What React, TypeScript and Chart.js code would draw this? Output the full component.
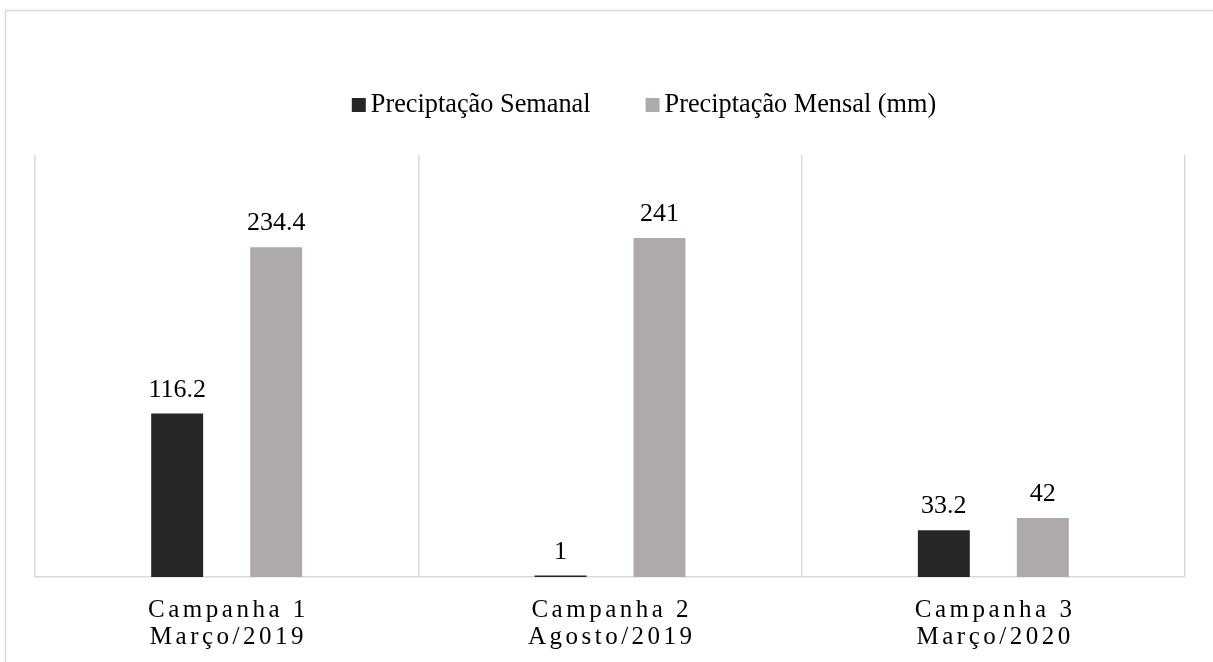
import React, { useEffect, useRef } from "react";
import { Chart, registerables } from "chart.js";

Chart.register(...registerables);

// Campaign labels (two lines each) and rainfall values
const categories: string[][] = [
  ["Campanha 1", "Março/2019"],
  ["Campanha 2", "Agosto/2019"],
  ["Campanha 3", "Março/2020"],
];
const weeklyRain: number[] = [116.2, 1, 33.2];
const monthlyRain: number[] = [234.4, 241, 42];
const seriesNames: string[] = ["Preciptação Semanal", "Preciptação Mensal (mm)"];
const seriesColors: string[] = ["#262626", "#AEAAAA"];

const FONT = "'Liberation Serif', 'Times New Roman', serif";
const GRID = "#d9d9d9";

// Frame around the whole figure
const framePlugin = {
  id: "frame",
  beforeDraw(chart: any) {
    const ctx = chart.ctx;
    ctx.save();
    ctx.fillStyle = "#ffffff";
    ctx.fillRect(0, 0, chart.width, chart.height);
    ctx.strokeStyle = GRID;
    ctx.lineWidth = 1.5;
    ctx.strokeRect(5.5, 10.5, chart.width + 50, chart.height + 50);
    ctx.restore();
  },
};

// Legend row drawn above the plot
const legendPlugin = {
  id: "customLegend",
  afterDraw(chart: any) {
    const ctx = chart.ctx;
    const box = 14;
    const textGap = 5;
    const itemGap = 55;
    const baseline = 112;
    ctx.save();
    ctx.font = `26.3px ${FONT}`;
    const items = chart.data.datasets.map((ds: any) => ({
      label: ds.label,
      color: ds.backgroundColor,
      w: ctx.measureText(ds.label).width,
    }));
    const total =
      items.reduce((s: number, it: any) => s + box + textGap + it.w, 0) +
      itemGap * (items.length - 1);
    let x = 644 - total / 2;
    ctx.textBaseline = "alphabetic";
    ctx.textAlign = "left";
    for (const it of items) {
      ctx.fillStyle = it.color;
      ctx.fillRect(x, baseline - box, box, box);
      x += box + textGap;
      ctx.fillStyle = "#000000";
      ctx.fillText(it.label, x, baseline);
      x += it.w + itemGap;
    }
    ctx.restore();
  },
};

// Value labels above each bar
const valueLabelPlugin = {
  id: "valueLabels",
  afterDatasetsDraw(chart: any) {
    const ctx = chart.ctx;
    ctx.save();
    ctx.font = `26px ${FONT}`;
    ctx.fillStyle = "#000000";
    ctx.textAlign = "center";
    ctx.textBaseline = "alphabetic";
    chart.data.datasets.forEach((ds: any, i: number) => {
      const meta = chart.getDatasetMeta(i);
      meta.data.forEach((bar: any, j: number) => {
        ctx.fillText(String(ds.data[j]), bar.x, bar.y - 17);
      });
    });
    ctx.restore();
  },
};

// Spaced-out category labels on the x axis
const spacedTicksPlugin = {
  id: "spacedTicks",
  afterLayout(chart: any) {
    const scale = chart.scales.x;
    if (!scale || scale.__spaced) return;
    const orig = scale.drawLabels;
    scale.drawLabels = function (area: any) {
      const ctx = this.ctx;
      ctx.save();
      ctx.letterSpacing = "3.5px";
      ctx.translate(1.75, 0);
      orig.call(this, area);
      ctx.restore();
    };
    scale.__spaced = true;
  },
};

export default function App() {
  const canvasRef = useRef<HTMLCanvasElement | null>(null);

  useEffect(() => {
    const canvas = canvasRef.current;
    if (!canvas) return;
    const chart = new Chart(canvas, {
      type: "bar",
      data: {
        labels: categories,
        datasets: [
          {
            label: seriesNames[0],
            data: weeklyRain,
            backgroundColor: seriesColors[0],
            categoryPercentage: 0.5165,
            barPercentage: 0.525,
          },
          {
            label: seriesNames[1],
            data: monthlyRain,
            backgroundColor: seriesColors[1],
            categoryPercentage: 0.5165,
            barPercentage: 0.525,
          },
        ],
      },
      options: {
        responsive: false,
        animation: false,
        devicePixelRatio: 1,
        layout: { padding: { left: 35, right: 28, top: 155, bottom: 0 } },
        plugins: {
          legend: { display: false },
          tooltip: { enabled: false },
        },
        scales: {
          x: {
            grid: {
              color: GRID,
              lineWidth: 1.5,
              drawTicks: false,
            },
            border: { color: GRID, width: 1.5 },
            ticks: {
              color: "#000000",
              font: { family: FONT, size: 25, lineHeight: 1.07 },
              padding: 20,
              maxRotation: 0,
              autoSkip: false,
            },
            afterFit(scale: any) {
              scale.height = 85;
            },
          },
          y: {
            display: false,
            min: 0,
            max: 300,
          },
        },
      },
      plugins: [framePlugin, spacedTicksPlugin, valueLabelPlugin, legendPlugin],
    });
    return () => chart.destroy();
  }, []);

  return (
    <div style={{ position: "fixed", left: 0, top: 0, width: 1213, height: 662, background: "#fff" }}>
      <canvas ref={canvasRef} width={1213} height={662} style={{ display: "block" }} />
    </div>
  );
}
